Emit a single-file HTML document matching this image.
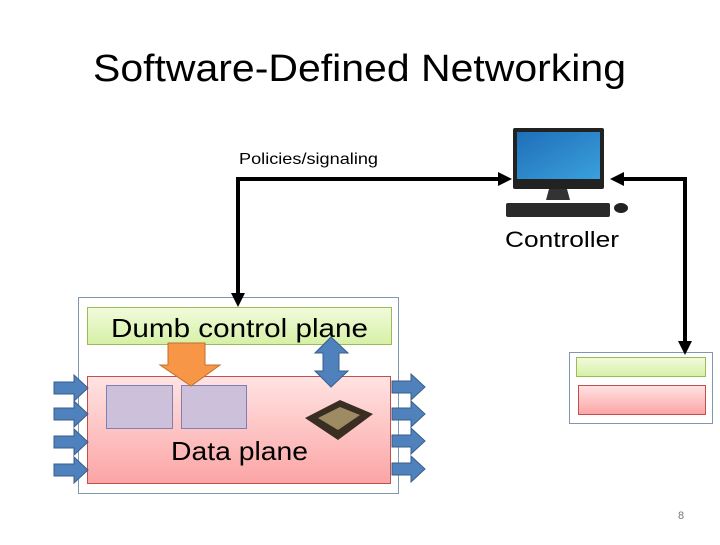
<!DOCTYPE html>
<html><head><style>html,body{margin:0;padding:0;background:#fff}</style></head><body>
<svg width="720" height="540" viewBox="0 0 720 540" xmlns="http://www.w3.org/2000/svg" font-family="Liberation Sans, sans-serif">
<defs>
<linearGradient id="pk" x1="0" y1="0" x2="0" y2="1"><stop offset="0" stop-color="#ffe3e3"/><stop offset="1" stop-color="#fca5a5"/></linearGradient>
<linearGradient id="gr" x1="0" y1="0" x2="0" y2="1"><stop offset="0" stop-color="#f2fbdc"/><stop offset="1" stop-color="#d6f0a6"/></linearGradient>
<linearGradient id="scr" x1="0" y1="0" x2="1" y2="1"><stop offset="0" stop-color="#1f6fb8"/><stop offset="1" stop-color="#3aa0dc"/></linearGradient>
</defs>
<text x="93" y="81" font-size="38" textLength="533" lengthAdjust="spacingAndGlyphs" fill="#000">Software-Defined Networking</text>
<text x="239" y="164" font-size="16" textLength="139" lengthAdjust="spacingAndGlyphs">Policies/signaling</text>
<text x="505" y="247" font-size="22" textLength="114" lengthAdjust="spacingAndGlyphs">Controller</text>
<text x="678" y="519" font-size="11" fill="#777">8</text>
<!-- monitor -->
<rect x="513" y="128" width="91" height="61" rx="2" fill="#222"/>
<rect x="517" y="132" width="83" height="47" fill="url(#scr)"/>
<path d="M549 189 L567 189 L570 200 L546 200 Z" fill="#333"/>
<rect x="506" y="203" width="104" height="14" rx="2" fill="#2a2a2a"/>
<ellipse cx="621" cy="208" rx="7" ry="5" fill="#222"/>
<!-- left switch -->
<rect x="78.5" y="297.5" width="320" height="196" fill="#fff" stroke="#7f98b0"/>
<rect x="87.5" y="307.5" width="304" height="37" fill="url(#gr)" stroke="#9bbb59"/>
<text x="111" y="337" font-size="26" textLength="257" lengthAdjust="spacingAndGlyphs">Dumb control plane</text>
<rect x="87.5" y="376.5" width="303" height="107" fill="url(#pk)" stroke="#c0504d"/>
<rect x="106.5" y="385.5" width="66" height="43" fill="#ccc0da" stroke="#7f7fb0"/>
<rect x="181.5" y="385.5" width="65" height="43" fill="#ccc0da" stroke="#7f7fb0"/>
<polygon points="168,343 205,343 205,365 220,365 191,386 160,365 168,365" fill="#f79646" stroke="#c0702b"/>
<polygon points="331,337 348,353 339,353 339,371 348,371 331,387 315,371 323,371 323,353 315,353" fill="#4f81bd" stroke="#385d8a"/>
<text x="171" y="460" font-size="26" textLength="137" lengthAdjust="spacingAndGlyphs">Data plane</text>
<!-- chip -->
<polygon points="305,418 340,400 373,414 338,440" fill="#3a2e22"/>
<polygon points="318,418 340,407 360,415 338,430" fill="#9c8b63"/>
<!-- port arrows -->
<g fill="#4f81bd" stroke="#385d8a">
<polygon points="54,382 74,382 74,375 88,388 74,401 74,394 54,394"/>
<polygon points="54,408 74,408 74,401 88,414 74,427 74,420 54,420"/>
<polygon points="54,436 74,436 74,429 88,442 74,455 74,448 54,448"/>
<polygon points="54,464 74,464 74,457 88,470 74,483 74,476 54,476"/>
<polygon points="392,381 411,381 411,374 425,387 411,400 411,393 392,393"/>
<polygon points="392,408 411,408 411,401 425,414 411,427 411,420 392,420"/>
<polygon points="392,435 411,435 411,428 425,441 411,454 411,447 392,447"/>
<polygon points="392,463 411,463 411,456 425,469 411,482 411,475 392,475"/>
</g>
<!-- right switch -->
<rect x="569.5" y="352.5" width="143" height="71" fill="#fff" stroke="#7f98b0"/>
<rect x="576.5" y="357.5" width="129" height="19" fill="url(#gr)" stroke="#9bbb59"/>
<rect x="578.5" y="385.5" width="127" height="29" fill="url(#pk)" stroke="#c0504d"/>
<!-- connectors -->
<polyline points="238,300 238,179 500,179" fill="none" stroke="#000" stroke-width="4"/>
<polygon points="498,172 512,179 498,186" fill="#000"/>
<polygon points="231,293 245,293 238,307" fill="#000"/>
<polyline points="622,179 685,179 685,342" fill="none" stroke="#000" stroke-width="4"/>
<polygon points="624,172 610,179 624,186" fill="#000"/>
<polygon points="678,341 692,341 685,355" fill="#000"/>
</svg>
</body></html>
